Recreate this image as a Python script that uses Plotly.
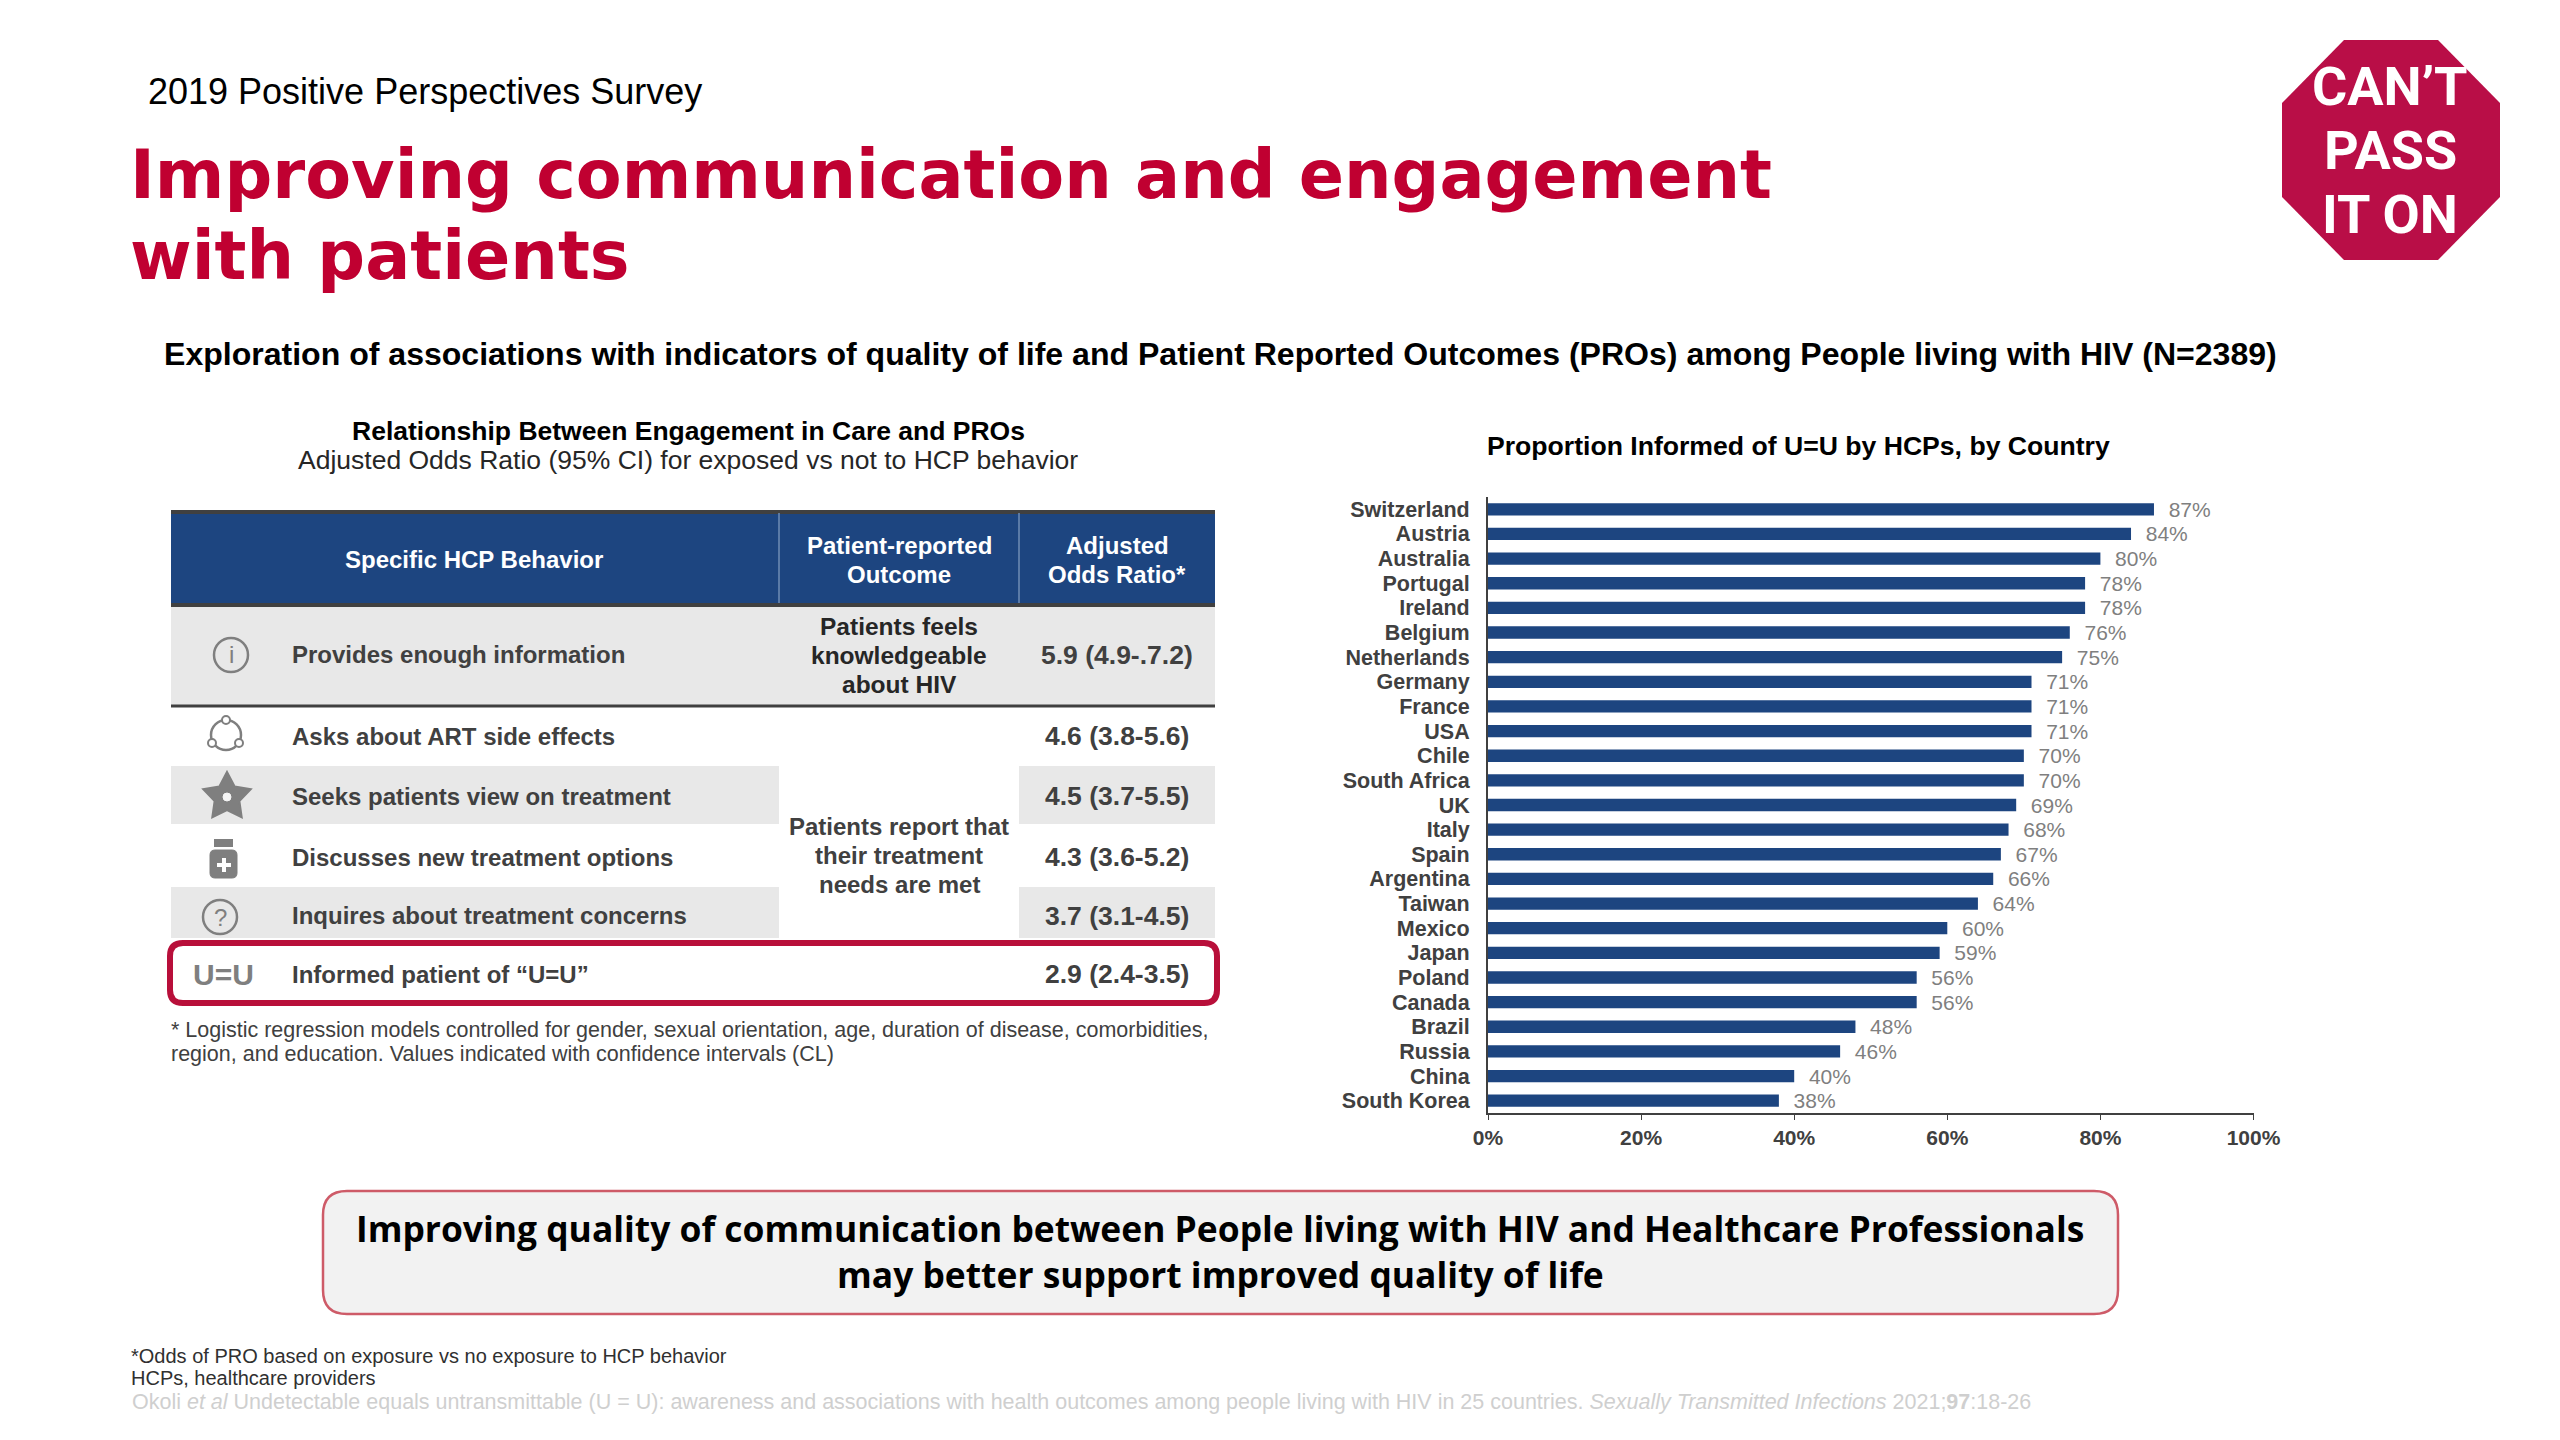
import math
import plotly.graph_objects as go

countries = ["Switzerland","Austria","Australia","Portugal","Ireland","Belgium","Netherlands","Germany","France","USA","Chile","South Africa","UK","Italy","Spain","Argentina","Taiwan","Mexico","Japan","Poland","Canada","Brazil","Russia","China","South Korea"]
informed_pct = [87,84,80,78,78,76,75,71,71,71,70,70,69,68,67,66,64,60,59,56,56,48,46,40,38]
tick_vals = [0,20,40,60,80,100]
tick_labels = ["0%","20%","40%","60%","80%","100%"]

table_headers = ["Specific HCP Behavior", "Patient-reported<br>Outcome", "Adjusted<br>Odds Ratio*"]
behaviors = ["Provides enough information","Asks about ART side effects","Seeks patients view on treatment","Discusses new treatment options","Inquires about treatment concerns","Informed patient of “U=U”"]
odds_ratios = ["5.9 (4.9-.7.2)","4.6 (3.8-5.6)","4.5 (3.7-5.5)","4.3 (3.6-5.2)","3.7 (3.1-4.5)","2.9 (2.4-3.5)"]
outcome_a = ["Patients feels","knowledgeable","about HIV"]
outcome_b = ["Patients report that","their treatment","needs are met"]

OX, OY = 8, 8
W, H = 2544, 1424
def X(p): return (p-OX)/W
def Y(p): return 1-(p-OY)/H

RED="#C00031"; NAVY="#1D4580"; DARK="#404040"; GREY="#E8E8E8"; ICON="#7F7F7F"
SANS="Liberation Sans"
shapes=[]; ann=[]
def text(x,y,t,size,color="#000000",font=SANS,anchor="left",bold=False,**fontkw):
    if bold: t="<b>"+t+"</b>"
    ann.append(dict(x=X(x),y=Y(y),xref="paper",yref="paper",text=t,showarrow=False,xanchor=anchor,yanchor="middle",
                    font=dict(size=size,color=color,family=font,**fontkw),align=anchor,borderpad=0,borderwidth=0))
def rect(x0,y0,x1,y1,fill,layer="below"):
    shapes.append(dict(type="rect",xref="paper",yref="paper",x0=X(x0),x1=X(x1),y0=Y(y0),y1=Y(y1),fillcolor=fill,line=dict(width=0),layer=layer))
def hline(x0,x1,y,color,w):
    shapes.append(dict(type="line",xref="paper",yref="paper",x0=X(x0),x1=X(x1),y0=Y(y),y1=Y(y),line=dict(color=color,width=w)))
def vline(x,y0,y1,color,w):
    shapes.append(dict(type="line",xref="paper",yref="paper",x0=X(x),x1=X(x),y0=Y(y0),y1=Y(y1),line=dict(color=color,width=w)))
def rrect(x0,y0,x1,y1,r,fill,line,w):
    p=(f"M {X(x0+r)} {Y(y0)} L {X(x1-r)} {Y(y0)} Q {X(x1)} {Y(y0)} {X(x1)} {Y(y0+r)} L {X(x1)} {Y(y1-r)} Q {X(x1)} {Y(y1)} {X(x1-r)} {Y(y1)} "
       f"L {X(x0+r)} {Y(y1)} Q {X(x0)} {Y(y1)} {X(x0)} {Y(y1-r)} L {X(x0)} {Y(y0+r)} Q {X(x0)} {Y(y0)} {X(x0+r)} {Y(y0)} Z")
    shapes.append(dict(type="path",xref="paper",yref="paper",path=p,fillcolor=fill,line=dict(color=line,width=w)))
def poly(pts,fill,line=None,w=0):
    p="M "+" L ".join(f"{X(a)} {Y(b)}" for a,b in pts)+" Z"
    shapes.append(dict(type="path",xref="paper",yref="paper",path=p,fillcolor=fill,line=dict(color=line or fill,width=w)))
def circle(cx,cy,r,fill="rgba(0,0,0,0)",line=ICON,w=2.5):
    shapes.append(dict(type="circle",xref="paper",yref="paper",x0=X(cx-r),x1=X(cx+r),y0=Y(cy-r),y1=Y(cy+r),fillcolor=fill,line=dict(color=line,width=w)))

# headings
text(148,91,"2019 Positive Perspectives Survey",36)
text(130,174.5,"Improving communication and engagement",66.8,RED,"DejaVu Sans",bold=True)
text(130,256,"with patients",66.8,RED,"DejaVu Sans",bold=True)
text(1220,354,"Exploration of associations with indicators of quality of life and Patient Reported Outcomes (PROs) among People living with HIV (N=2389)",32.05,anchor="center",bold=True)
text(688,431,"Relationship Between Engagement in Care and PROs",26.5,anchor="center",bold=True)
text(688,460,"Adjusted Odds Ratio (95% CI) for exposed vs not to HCP behavior",26.5,"#262626",anchor="center")
text(1798,446,"Proportion Informed of U=U by HCPs, by Country",26.6,anchor="center",bold=True)

# logo
logo=[(2344,40),(2438,40),(2500,103),(2500,197),(2438,260),(2344,260),(2282,197),(2282,103)]
poly(logo,"#B90E47")
for yy,t in zip((87,151,215),("CAN’T","PASS","IT ON")):
    text(2390,yy,t,54,"#FFFFFF","Roboto",anchor="center",bold=True)

# table
TL,C1,C2,TR=171,779,1019,1215
rect(TL,511,TR,606,NAVY)
hline(TL,TR,512,DARK,4); hline(TL,TR,605,DARK,4)
vline(C1,513,603,"#6F8DB5",1.5); vline(C2,513,603,"#6F8DB5",1.5)
text((TL+C1)/2-1,559,table_headers[0],24,"#FFFFFF",anchor="center",bold=True)
for i,t in enumerate(table_headers[1].split("<br>")):
    text((C1+C2)/2,545+29*i,t,24,"#FFFFFF",anchor="center",bold=True)
for i,t in enumerate(table_headers[2].split("<br>")):
    text((C2+TR)/2,545+29*i,t,24,"#FFFFFF",anchor="center",bold=True)
rect(TL,606,TR,706,GREY)
hline(TL,TR,706,DARK,3)
for a,b in ((766,824),(887,938)):
    rect(TL,a,C1,b,GREY); rect(C2,a,TR,b,GREY)
rowy=[655,736,796,857,916,974]
for y,b,o in zip(rowy,behaviors,odds_ratios):
    text(292,y,b,24,DARK,anchor="left",bold=True)
    text((C2+TR)/2,y,o,26.5,DARK,anchor="center",bold=True)
for i,t in enumerate(outcome_a):
    text((C1+C2)/2,627+28.5*i,t,24.5,"#262626",anchor="center",bold=True)
for i,t in enumerate(outcome_b):
    text((C1+C2)/2,826+29*i,t,24,DARK,anchor="center",bold=True)
rrect(170,943,1217,1003,13,"rgba(0,0,0,0)","#B80F3A",6)
text(171,1030,"* Logistic regression models controlled for gender, sexual orientation, age, duration of disease, comorbidities,",21.5,DARK)
text(171,1054,"region, and education. Values indicated with confidence intervals (CL)",21.5,DARK)

# icons
circle(231,655,17)
text(231,655,"i",24,ICON,anchor="center")
circle(226,735,15)
for cx,cy in ((226,720),(212,743),(239,743)):
    circle(cx,cy,4,"#FFFFFF",ICON,2)
star=[]
for k in range(10):
    r=25 if k%2==0 else 13
    a=-math.pi/2+k*math.pi/5
    star.append((227+r*math.cos(a),797+r*math.sin(a)))
poly(star,ICON,ICON,2)
circle(227,797,4,"#F4F4F4","#F4F4F4",1)
rrect(210,850,237,878,5,ICON,ICON,1)
rect(214,839,233,847,ICON,"above")
rect(222,858,226,872,"#FFFFFF","above")
rect(217,863,231,867,"#FFFFFF","above")
circle(220,917,17)
text(220,917,"?",24,ICON,anchor="center")
text(223.5,974,"U=U",30,ICON,anchor="center",bold=True)

# callout
rrect(323,1191,2118,1314,24,"#F2F2F2","#CE5B68",2.5)
text(1220,1228,"Improving quality of communication between People living with HIV and Healthcare Professionals",35.4,"#000000","Open Sans",anchor="center",bold=True)
text(1220,1274,"may better support improved quality of life",35.4,"#000000","Open Sans",anchor="center",bold=True)

# footnotes
text(131,1356,"*Odds of PRO based on exposure vs no exposure to HCP behavior",20,"#303030")
text(131,1378,"HCPs, healthcare providers",20,"#303030")
text(132,1402,"Okoli <i>et al</i> Undetectable equals untransmittable (U = U): awareness and associations with health outcomes among people living with HIV in 25 countries. <i>Sexually Transmitted Infections</i> 2021;<b>97</b>:18-26",21.5,"#CFCFCF")

fig=go.Figure(go.Bar(
    x=informed_pct,y=countries,orientation="h",marker=dict(color=NAVY,line=dict(width=0)),width=0.5,
    text=[f"\u00a0\u00a0{v}%" for v in informed_pct],textposition="outside",cliponaxis=False,constraintext="none",textangle=0,
    textfont=dict(size=21,color="#7F7F7F",family=SANS),hoverinfo="skip"))
fig.update_layout(
    width=W,height=H,margin=dict(l=0,r=0,t=0,b=0,autoexpand=False),paper_bgcolor="#FFFFFF",plot_bgcolor="#FFFFFF",showlegend=False,
    shapes=shapes,annotations=ann,
    xaxis=dict(domain=[X(1488),X(2253.5)],range=[0,100],tickvals=tick_vals,ticktext=[f"<b>{t}</b>" for t in tick_labels],ticks="outside",ticklen=5,tickcolor=DARK,
               showgrid=False,zeroline=False,showline=True,linecolor=DARK,linewidth=2,anchor="y",
               tickfont=dict(size=21,color=DARK,family=SANS)),
    yaxis=dict(domain=[Y(1113),Y(497)],autorange="reversed",showgrid=False,zeroline=False,showline=True,linecolor=DARK,linewidth=2,ticks="",
               tickfont=dict(size=21.5,color=DARK,family=SANS),ticklabelstandoff=12,
               tickmode="array",tickvals=countries,ticktext=[f"<b>{c}</b>" for c in countries]),
)
fig.write_html("out.html")
